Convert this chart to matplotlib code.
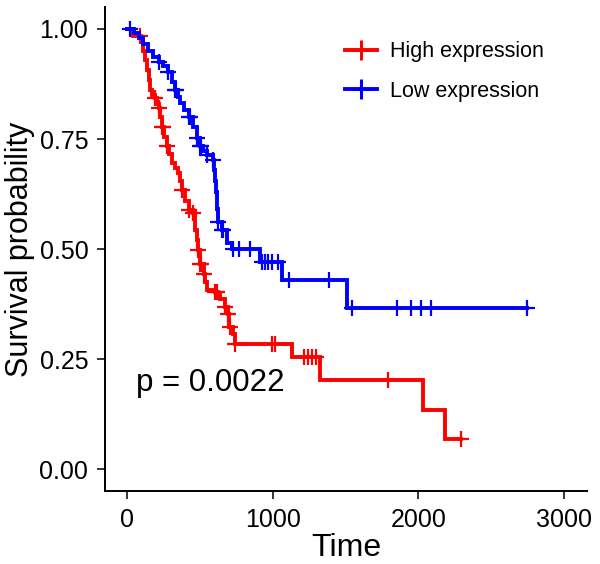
import numpy as np
import matplotlib
matplotlib.use('Agg')
import matplotlib.pyplot as plt

plt.rcParams['font.family'] = ['Liberation Sans', 'DejaVu Sans']

# Kaplan-Meier step curves (time, survival after the step)
high_time = [0, 45, 100, 114, 125, 137, 150, 160, 175, 194, 205, 217, 228, 240,
             255, 274, 290, 309, 330, 354, 365, 377, 400, 423, 457, 468, 480,
             491, 503, 526, 538, 549, 606, 625, 640, 674, 697, 700, 731, 743,
             1132, 1326, 2034, 2183]
high_surv = [1.0, 0.985, 0.975, 0.949, 0.93, 0.907, 0.885, 0.862, 0.85, 0.843,
             0.83, 0.82, 0.80, 0.778, 0.755, 0.733, 0.715, 0.695, 0.685, 0.672,
             0.655, 0.634, 0.61, 0.588, 0.581, 0.543, 0.52, 0.497, 0.467, 0.444,
             0.425, 0.406, 0.402, 0.395, 0.387, 0.368, 0.353, 0.323, 0.307,
             0.285, 0.254, 0.203, 0.134, 0.068]
high_cens = [91, 194, 217, 240, 250, 274, 377, 423, 457, 491, 503, 510, 526,
             606, 615, 674, 697, 705, 743, 994, 1017, 1216, 1244, 1271, 1299,
             1794, 2290]

low_time = [0, 46, 80, 110, 148, 180, 217, 250, 285, 310, 331, 350, 366, 395,
            423, 457, 480, 503, 525, 549, 594, 600, 605, 610, 615, 620, 627,
            650, 686, 720, 914, 1063, 1509]
low_surv = [1.0, 0.99, 0.98, 0.965, 0.949, 0.937, 0.926, 0.915, 0.903, 0.88,
            0.862, 0.845, 0.831, 0.815, 0.80, 0.778, 0.752, 0.733, 0.722, 0.714,
            0.702, 0.68, 0.655, 0.63, 0.61, 0.59, 0.562, 0.543, 0.513, 0.50,
            0.471, 0.429, 0.367]
low_cens = [23, 217, 285, 331, 340, 423, 430, 480, 503, 510, 549, 594, 627,
            651, 660, 731, 766, 846, 926, 949, 969, 996, 1040, 1115, 1390, 1543,
            1856, 1948, 2019, 2087, 2744]

groups = [('High expression', high_time, high_surv, high_cens, '#FF0000'),
          ('Low expression', low_time, low_surv, low_cens, '#0000FF')]

pval_text = 'p = 0.0022'

fig = plt.figure(figsize=(6, 5.64), dpi=100)
ax = fig.add_axes([0.175, 0.1294, 0.803, 0.8582])

for name, t, s, c, col in groups:
    t = np.asarray(t, float)
    s = np.asarray(s, float)
    c = np.asarray(c, float)
    # extend the last step to the last follow-up time
    t_full = np.append(t, max(t[-1], c.max()))
    s_full = np.append(s, s[-1])
    ax.step(t_full, s_full, where='post', color=col, lw=2.8,
            solid_joinstyle='miter')
    idx = np.searchsorted(t, c, side='right') - 1
    ax.plot(c, s[idx], ls='none', marker='+', ms=11, mew=1.6, color=col)
    # legend handle
    ax.plot([], [], color=col, lw=2.8, marker='+', ms=14, mew=2.2, label=name)

ax.text(60, 0.195, pval_text, fontsize=22.5, ha='left', va='center')

ax.set_xlim(-150, 3155)
ax.set_ylim(-0.05, 1.05)
ax.set_xticks([0, 1000, 2000, 3000])
ax.set_yticks([0, 0.25, 0.5, 0.75, 1.0])
ax.set_yticklabels(['0.00', '0.25', '0.50', '0.75', '1.00'])
ax.set_xlabel('Time', fontsize=23, labelpad=1)
ax.set_ylabel('Survival probability', fontsize=22, labelpad=3)
ax.tick_params(labelsize=18, length=6, width=1.1, color='black',
               labelcolor='black', pad=6)

for side in ['top', 'right']:
    ax.spines[side].set_visible(False)
for side in ['left', 'bottom']:
    ax.spines[side].set_linewidth(1.4)

ax.legend(loc='upper left', bbox_to_anchor=(0.557, 0.946),
          bbox_transform=fig.transFigure, frameon=False, fontsize=15.5,
          handlelength=1.5, handletextpad=0.6, labelspacing=0.87, borderpad=0)

fig.savefig('out.png', dpi=100)
